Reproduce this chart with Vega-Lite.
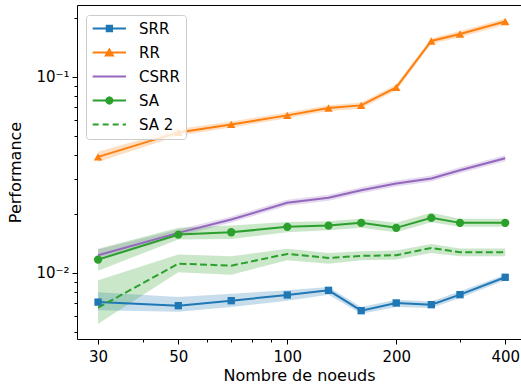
{
  "$schema": "https://vega.github.io/schema/vega-lite/v6.json",
  "width": 444,
  "height": 334,
  "autosize": "none",
  "padding": {"left": 77, "top": 5, "right": 0, "bottom": 46},
  "background": "white",
  "config": {
    "view": {"stroke": null},
    "font": "DejaVu Sans",
    "axis": {
      "grid": false,
      "domainColor": "black",
      "domainWidth": 1,
      "tickColor": "black",
      "tickWidth": 1,
      "labelColor": "black",
      "titleColor": "black",
      "labelFont": "DejaVu Sans",
      "titleFont": "DejaVu Sans",
      "labelFontSize": 15,
      "titleFontSize": 16,
      "titleFontWeight": "normal"
    }
  },
  "data": {
    "values": [
      {"s": "SRR", "n": 30, "y": 0.0071, "lo": 0.00645, "hi": 0.00796},
      {"s": "SRR", "n": 50, "y": 0.00681, "lo": 0.00635, "hi": 0.00754},
      {"s": "SRR", "n": 70, "y": 0.00722, "lo": 0.00671, "hi": 0.00784},
      {"s": "SRR", "n": 100, "y": 0.00772, "lo": 0.00722, "hi": 0.00815},
      {"s": "SRR", "n": 130, "y": 0.00815, "lo": 0.00775, "hi": 0.00848},
      {"s": "SRR", "n": 160, "y": 0.00642, "lo": 0.0062, "hi": 0.00671},
      {"s": "SRR", "n": 200, "y": 0.00703, "lo": 0.00671, "hi": 0.00731},
      {"s": "SRR", "n": 250, "y": 0.00689, "lo": 0.00663, "hi": 0.00716},
      {"s": "SRR", "n": 300, "y": 0.00775, "lo": 0.00746, "hi": 0.00806},
      {"s": "SRR", "n": 400, "y": 0.0095, "lo": 0.00917, "hi": 0.0098},
      {"s": "RR", "n": 30, "y": 0.039, "lo": 0.0367, "hi": 0.0414},
      {"s": "RR", "n": 50, "y": 0.052, "lo": 0.05, "hi": 0.0541},
      {"s": "RR", "n": 70, "y": 0.0571, "lo": 0.0551, "hi": 0.0591},
      {"s": "RR", "n": 100, "y": 0.0635, "lo": 0.0613, "hi": 0.0657},
      {"s": "RR", "n": 130, "y": 0.0692, "lo": 0.0668, "hi": 0.0716},
      {"s": "RR", "n": 160, "y": 0.0714, "lo": 0.0689, "hi": 0.0739},
      {"s": "RR", "n": 200, "y": 0.0882, "lo": 0.0851, "hi": 0.0913},
      {"s": "RR", "n": 250, "y": 0.152, "lo": 0.147, "hi": 0.157},
      {"s": "RR", "n": 300, "y": 0.165, "lo": 0.159, "hi": 0.171},
      {"s": "RR", "n": 400, "y": 0.191, "lo": 0.184, "hi": 0.198},
      {"s": "CSRR", "n": 30, "y": 0.0123, "lo": 0.01156, "hi": 0.01315},
      {"s": "CSRR", "n": 50, "y": 0.016, "lo": 0.01537, "hi": 0.01663},
      {"s": "CSRR", "n": 70, "y": 0.0187, "lo": 0.01806, "hi": 0.01938},
      {"s": "CSRR", "n": 100, "y": 0.02276, "lo": 0.02197, "hi": 0.02357},
      {"s": "CSRR", "n": 130, "y": 0.02414, "lo": 0.0233, "hi": 0.025},
      {"s": "CSRR", "n": 160, "y": 0.02639, "lo": 0.02547, "hi": 0.02734},
      {"s": "CSRR", "n": 200, "y": 0.02855, "lo": 0.02756, "hi": 0.02958},
      {"s": "CSRR", "n": 250, "y": 0.03028, "lo": 0.02923, "hi": 0.03136},
      {"s": "CSRR", "n": 300, "y": 0.03338, "lo": 0.03222, "hi": 0.03458},
      {"s": "CSRR", "n": 400, "y": 0.03843, "lo": 0.0371, "hi": 0.03981},
      {"s": "SA", "n": 30, "y": 0.01169, "lo": 0.01027, "hi": 0.01326},
      {"s": "SA", "n": 50, "y": 0.01568, "lo": 0.01479, "hi": 0.01697},
      {"s": "SA", "n": 70, "y": 0.01611, "lo": 0.01491, "hi": 0.01743},
      {"s": "SA", "n": 100, "y": 0.01717, "lo": 0.01611, "hi": 0.0182},
      {"s": "SA", "n": 130, "y": 0.01743, "lo": 0.01649, "hi": 0.01833},
      {"s": "SA", "n": 160, "y": 0.01799, "lo": 0.01697, "hi": 0.01886},
      {"s": "SA", "n": 200, "y": 0.01697, "lo": 0.01611, "hi": 0.01799},
      {"s": "SA", "n": 250, "y": 0.01908, "lo": 0.01812, "hi": 0.02024},
      {"s": "SA", "n": 300, "y": 0.01799, "lo": 0.01717, "hi": 0.01886},
      {"s": "SA", "n": 400, "y": 0.01799, "lo": 0.01717, "hi": 0.01886},
      {"s": "SA 2", "n": 30, "y": 0.00665, "lo": 0.00551, "hi": 0.00917},
      {"s": "SA 2", "n": 50, "y": 0.01115, "lo": 0.01007, "hi": 0.0124},
      {"s": "SA 2", "n": 70, "y": 0.01089, "lo": 0.0098, "hi": 0.01215},
      {"s": "SA 2", "n": 100, "y": 0.0125, "lo": 0.01159, "hi": 0.01326},
      {"s": "SA 2", "n": 130, "y": 0.01193, "lo": 0.01115, "hi": 0.01265},
      {"s": "SA 2", "n": 160, "y": 0.01221, "lo": 0.01159, "hi": 0.01289},
      {"s": "SA 2", "n": 200, "y": 0.0123, "lo": 0.01169, "hi": 0.013},
      {"s": "SA 2", "n": 250, "y": 0.01341, "lo": 0.01265, "hi": 0.01406},
      {"s": "SA 2", "n": 300, "y": 0.01274, "lo": 0.01215, "hi": 0.0133},
      {"s": "SA 2", "n": 400, "y": 0.01274, "lo": 0.01215, "hi": 0.0133}
    ]
  },
  "resolve": {"axis": {"x": "independent"}},
  "layer": [
    {
      "mark": {"type": "area", "opacity": 0.25},
      "encoding": {
        "x": {
          "field": "n", "type": "quantitative",
          "scale": {"type": "log", "domain": [26.24, 442.3], "nice": false},
          "axis": {
            "orient": "bottom",
            "values": [30, 40, 50, 60, 70, 80, 90, 100, 200, 300, 400],
            "labelExpr": "indexof([30,50,100,200,400], datum.value) >= 0 ? datum.value : ''",
            "tickSize": {"condition": {"test": "indexof([30,50,100,200,400], datum.value) >= 0", "value": 5}, "value": 3},
            "labelPadding": 5,
            "labelFlush": false,
            "labelOverlap": false,
            "title": "Nombre de noeuds",
            "titlePadding": 3
          }
        },
        "y": {
          "field": "lo", "type": "quantitative",
          "scale": {"type": "log", "domain": [0.004606, 0.2318], "nice": false},
          "axis": {
            "values": [0.005, 0.006, 0.007, 0.008, 0.009, 0.01, 0.02, 0.03, 0.04, 0.05, 0.06, 0.07, 0.08, 0.09, 0.1, 0.2],
            "labelExpr": "datum.value === 0.01 ? '10⁻²' : (datum.value === 0.1 ? '10⁻¹' : '')",
            "tickSize": {"condition": {"test": "datum.value === 0.01 || datum.value === 0.1", "value": 5}, "value": 3},
            "labelPadding": 3,
            "labelOverlap": false,
            "labelFlush": false,
            "title": "Performance",
            "titlePadding": 12
          }
        },
        "y2": {"field": "hi"},
        "color": {
          "field": "s", "type": "nominal",
          "scale": {"domain": ["SRR", "RR", "CSRR", "SA", "SA 2"], "range": ["#1f77b4", "#ff7f0e", "#9467bd", "#2ca02c", "#2ca02c"]}
        }
      }
    },
    {
      "transform": [{"filter": "datum.s !== 'SA 2'"}],
      "mark": {"type": "line", "strokeWidth": 2},
      "encoding": {
        "x": {"field": "n", "type": "quantitative", "axis": {"orient": "top", "labels": false, "ticks": false, "title": null, "domain": true, "domainColor": "black", "grid": false}},
        "y": {"field": "y", "type": "quantitative"},
        "color": {"field": "s", "type": "nominal"}
      }
    },
    {
      "transform": [{"filter": "datum.s === 'SA 2'"}],
      "mark": {"type": "line", "strokeWidth": 2, "strokeDash": [7, 3.3]},
      "encoding": {
        "x": {"field": "n", "type": "quantitative", "axis": null},
        "y": {"field": "y", "type": "quantitative"},
        "color": {"field": "s", "type": "nominal"}
      }
    },
    {
      "transform": [{"filter": "datum.s === 'SRR'"}],
      "mark": {"type": "point", "shape": "square", "filled": true, "opacity": 1, "size": 54},
      "encoding": {
        "x": {"field": "n", "type": "quantitative", "axis": null},
        "y": {"field": "y", "type": "quantitative"},
        "color": {"field": "s", "type": "nominal"}
      }
    },
    {
      "transform": [{"filter": "datum.s === 'RR'"}],
      "mark": {"type": "point", "shape": "triangle-up", "filled": true, "opacity": 1, "size": 72},
      "encoding": {
        "x": {"field": "n", "type": "quantitative", "axis": null},
        "y": {"field": "y", "type": "quantitative"},
        "color": {"field": "s", "type": "nominal"}
      }
    },
    {
      "transform": [{"filter": "datum.s === 'SA'"}],
      "mark": {"type": "point", "shape": "circle", "filled": true, "opacity": 1, "size": 69},
      "encoding": {
        "x": {"field": "n", "type": "quantitative", "axis": null},
        "y": {"field": "y", "type": "quantitative"},
        "color": {"field": "s", "type": "nominal"}
      }
    },
    {
      "mark": {"type": "point", "filled": true, "opacity": 0},
      "encoding": {
        "x": {"field": "n", "type": "quantitative", "axis": null},
        "y": {"field": "y", "type": "quantitative"},
        "color": {
          "field": "s", "type": "nominal",
          "legend": {
            "title": null,
            "orient": "none",
            "legendX": 9,
            "legendY": 10,
            "padding": 6,
            "fillColor": "rgba(255,255,255,0.8)",
            "strokeColor": "#cccccc",
            "cornerRadius": 3,
            "labelFont": "DejaVu Sans",
            "labelFontSize": 15,
            "labelColor": "black",
            "labelOffset": 32,
            "labelLimit": 200,
            "symbolSize": 169,
            "rowPadding": 8,
            "symbolStrokeWidth": 2,
            "encode": {
              "symbols": {
                "update": {
                  "fill": {"scale": "color", "field": "value"},
                  "stroke": {"scale": "color", "field": "value"},
                  "strokeWidth": {"value": 2},
                  "opacity": {"value": 1},
                  "fillOpacity": {"value": 1},
                  "strokeOpacity": {"value": 1}
                }
              }
            }
          }
        },
        "shape": {
          "field": "s", "type": "nominal",
          "scale": {
            "domain": ["SRR", "RR", "CSRR", "SA", "SA 2"],
            "range": [
              "M-1.05,0L4.07,0M1.11,-0.41L1.93,-0.41L1.93,0.41L1.11,0.41Z",
              "M-1.05,0L4.07,0M1.52,-0.47L2.06,0.45L0.98,0.45Z",
              "M-1.05,0L4.07,0",
              "M-1.05,0L4.07,0M2.0,0L1.936,0.24L1.76,0.416L1.52,0.48L1.28,0.416L1.104,0.24L1.04,0L1.104,-0.24L1.28,-0.416L1.52,-0.48L1.76,-0.416L1.936,-0.24Z",
              "M-1.05,0L-0.13,0M0.49,0L1.41,0M2.03,0L2.95,0M3.57,0L4.07,0"
            ]
          }
        }
      }
    }
  ]
}
